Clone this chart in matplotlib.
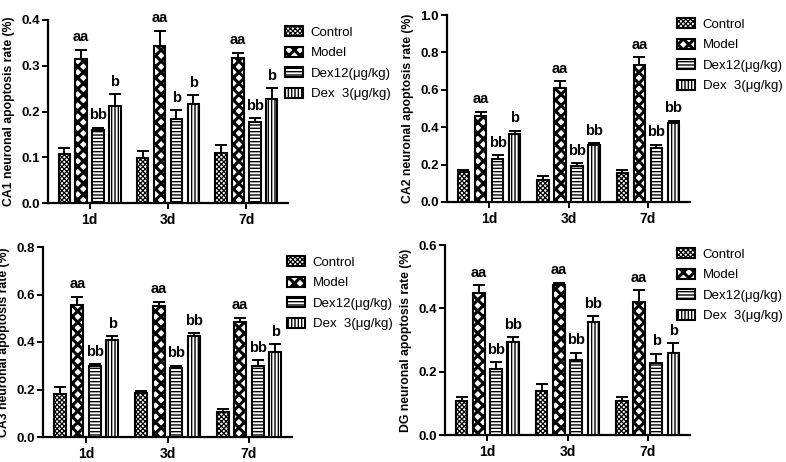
import numpy as np
import matplotlib
matplotlib.use('Agg')
import matplotlib.pyplot as plt

plt.rcParams['font.family'] = ['Liberation Sans', 'DejaVu Sans']
plt.rcParams['hatch.linewidth'] = 1.0

days = ['1d', '3d', '7d']
groups = ['Control', 'Model', 'Dex12(μg/kg)', 'Dex  3(μg/kg)']

# means per group (rows) and day (cols), with SEM
ca1_mean = [[0.108, 0.098, 0.110],
            [0.315, 0.343, 0.317],
            [0.160, 0.183, 0.177],
            [0.212, 0.217, 0.227]]
ca1_err = [[0.013, 0.015, 0.017],
           [0.020, 0.033, 0.011],
           [0.005, 0.020, 0.008],
           [0.026, 0.018, 0.024]]
ca1_sig = [['', '', ''], ['aa', 'aa', 'aa'], ['bb', 'b', 'bb'], ['b', 'b', 'b']]

ca2_mean = [[0.160, 0.120, 0.155],
            [0.460, 0.610, 0.730],
            [0.230, 0.195, 0.290],
            [0.362, 0.305, 0.420]]
ca2_err = [[0.010, 0.020, 0.018],
           [0.022, 0.035, 0.045],
           [0.020, 0.012, 0.015],
           [0.020, 0.008, 0.015]]
ca2_sig = [['', '', ''], ['aa', 'aa', 'aa'], ['bb', 'bb', 'bb'], ['b', 'bb', 'bb']]

ca3_mean = [[0.180, 0.185, 0.105],
            [0.555, 0.550, 0.485],
            [0.298, 0.290, 0.298],
            [0.410, 0.425, 0.360]]
ca3_err = [[0.030, 0.010, 0.013],
           [0.035, 0.020, 0.017],
           [0.008, 0.010, 0.025],
           [0.015, 0.012, 0.030]]
ca3_sig = [['', '', ''], ['aa', 'aa', 'aa'], ['bb', 'bb', 'bb'], ['b', 'bb', 'b']]

dg_mean = [[0.108, 0.140, 0.108],
           [0.448, 0.473, 0.420],
           [0.207, 0.238, 0.228],
           [0.295, 0.357, 0.260]]
dg_err = [[0.013, 0.022, 0.013],
          [0.025, 0.008, 0.037],
          [0.022, 0.022, 0.028],
          [0.013, 0.018, 0.030]]
dg_sig = [['', '', ''], ['aa', 'aa', 'aa'], ['bb', 'bb', 'b'], ['bb', 'bb', 'b']]

hatches = ['xxxxxxx', 'xxx', '-----', '|||||']
hatch_lw = [0.9, 2.2, 1.0, 1.0]

W, H = 786, 462
fig = plt.figure(figsize=(W / 100, H / 100), dpi=100)


def px_axes(l, r, t, b):
    return fig.add_axes([l / W, 1 - b / H, (r - l) / W, (b - t) / H])


def set_hlw(p, lw):
    if hasattr(p, 'set_hatch_linewidth'):
        p.set_hatch_linewidth(lw)


def panel(ax, mean, err, sig, ymax, ystep, ylabel, leg_xy):
    x = np.arange(len(days))
    step, bw = 0.215, 0.145
    handles = []
    for i in range(4):
        xs = x + (i - 1.5) * step
        bars = ax.bar(xs, mean[i], bw, color='white', edgecolor='black',
                      linewidth=1.5, hatch=hatches[i], zorder=3, label=groups[i])
        for p in bars:
            set_hlw(p, hatch_lw[i])
        handles.append(bars)
        ax.errorbar(xs, mean[i], yerr=[np.zeros(3), err[i]], fmt='none',
                    ecolor='black', elinewidth=1.4, capsize=4.5, capthick=1.4, zorder=2)
        for j in range(3):
            if sig[i][j]:
                ax.annotate(sig[i][j], (xs[j], mean[i][j] + err[i][j]),
                            xytext=(0, 4), textcoords='offset points',
                            ha='center', va='bottom', fontsize=10.5, fontweight='bold')
    ax.set_xlim(-0.53, 2.53)
    ax.set_ylim(0, ymax)
    yt = np.arange(0, ymax + ystep / 2, ystep)
    ax.set_yticks(yt)
    ax.set_yticklabels(['%.1f' % v for v in yt])
    ax.set_xticks(x)
    ax.set_xticklabels(days)
    for s in ['top', 'right']:
        ax.spines[s].set_visible(False)
    for s in ['left', 'bottom']:
        ax.spines[s].set_linewidth(1.6)
    ax.tick_params(direction='out', width=1.4, length=4, labelsize=9.5, pad=2)
    ax.tick_params(axis='x', labelsize=10, pad=3)
    for lab in ax.get_xticklabels() + ax.get_yticklabels():
        lab.set_fontweight('bold')
    ax.set_ylabel(ylabel, fontsize=8.8, fontweight='bold', labelpad=4)
    leg = fig.legend(handles=handles, loc='upper left',
                     bbox_to_anchor=(leg_xy[0] / W, 1 - leg_xy[1] / H),
                     frameon=False, fontsize=9.5, handlelength=1.35, handleheight=0.8,
                     handletextpad=0.6, labelspacing=0.6, borderpad=0, borderaxespad=0)
    for i, h in enumerate(leg.legend_handles):
        h.set_linewidth(1.5)
        set_hlw(h, hatch_lw[i])


ax1 = px_axes(48, 288, 20, 203)
panel(ax1, ca1_mean, ca1_err, ca1_sig, 0.4, 0.1, 'CA1 neuronal apoptosis rate (%)', (285, 26))

ax2 = px_axes(447, 690, 15, 202)
panel(ax2, ca2_mean, ca2_err, ca2_sig, 1.0, 0.2, 'CA2 neuronal apoptosis rate (%)', (677, 18))

ax3 = px_axes(43, 292, 247, 437)
panel(ax3, ca3_mean, ca3_err, ca3_sig, 0.8, 0.2, 'CA3 neuronal apoptosis rate (%)', (287, 256))

ax4 = px_axes(445, 690, 245, 435)
panel(ax4, dg_mean, dg_err, dg_sig, 0.6, 0.2, 'DG neuronal apoptosis rate (%)', (677, 248))

fig.savefig('out.png', dpi=100)
